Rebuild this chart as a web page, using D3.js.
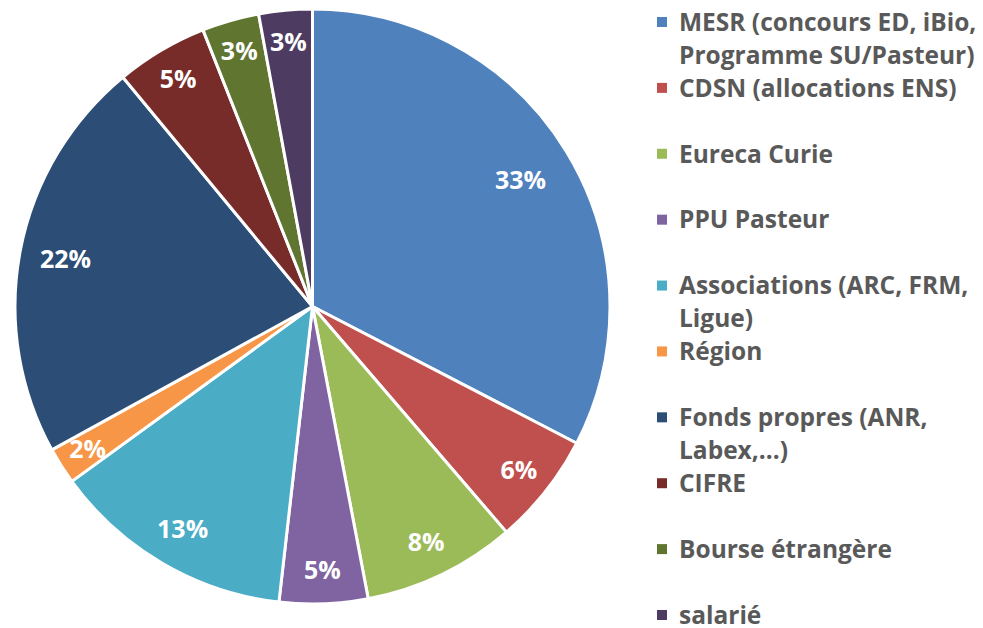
<!DOCTYPE html>
<html>
<head>
<meta charset="utf-8">
<script src="https://cdn.jsdelivr.net/npm/d3@7"></script>
<style>
  html, body { margin: 0; padding: 0; background: #fff; }
  svg { display: block; }
</style>
</head>
<body>
<svg></svg>
<script>
const width = 983;
const height = 628;

// funding sources, in pie order (clockwise from 12 o'clock)
const categories = [
	['MESR (concours ED, iBio,', 'Programme SU/Pasteur)'],
	['CDSN (allocations ENS)'],
	['Eureca Curie'],
	['PPU Pasteur'],
	['Associations (ARC, FRM,', 'Ligue)'],
	['Région'],
	['Fonds propres (ANR,', 'Labex,…)'],
	['CIFRE'],
	['Bourse étrangère'],
	['salarié']
];
const values = [32.6, 6.1, 8.3, 4.8, 13.2, 2.0, 22.0, 5.0, 3.1, 2.9];
const colors = ['#4f81bd', '#c0504d', '#9bbb59', '#8064a2', '#4bacc6',
	'#f79646', '#2c4d75', '#772c2a', '#5f7530', '#4d3b62'];

const cx = 312.5, cy = 306.5, radius = 297.5;
const font = '"Open Sans", Lato, sans-serif';

const svg = d3.select('svg')
	.attr('width', width)
	.attr('height', height);

const total = d3.sum(values);
const pie = d3.pie().sort(null).value(d => d);
const arc = d3.arc().innerRadius(0).outerRadius(radius);

// big slices get their label pulled a bit inwards, like Excel does
const labelPos = d => {
	const r = radius * (0.9 - 0.25 * d.value / total);
	return d3.arc().innerRadius(r).outerRadius(r).centroid(d);
};

const g = svg.append('g').attr('transform', `translate(${cx},${cy})`);

const arcs = pie(values);

g.selectAll('path')
	.data(arcs)
	.enter()
	.append('path')
	.attr('d', arc)
	.attr('fill', (d, i) => colors[i])
	.attr('stroke', '#fff')
	.attr('stroke-width', 3)
	.attr('stroke-linejoin', 'round');

g.selectAll('text')
	.data(arcs)
	.enter()
	.append('text')
	.attr('transform', d => `translate(${labelPos(d)})`)
	.attr('text-anchor', 'middle')
	.attr('dy', '0.36em')
	.style('font-family', font)
	.style('font-weight', 'bold')
	.style('font-size', '25px')
	.attr('fill', '#fff')
	.text(d => Math.round(d.value / total * 100) + '%');

// legend
const legendY = d3.scaleLinear().domain([0, categories.length - 1]).range([22, 615]);

const legend = svg.append('g')
	.selectAll('g')
	.data(categories)
	.enter()
	.append('g')
	.attr('transform', (d, i) => `translate(657,${legendY(i)})`);

legend.append('rect')
	.attr('x', 0)
	.attr('y', -5)
	.attr('width', 10)
	.attr('height', 10)
	.attr('fill', (d, i) => colors[i]);

legend.append('text')
	.attr('x', 22)
	.attr('y', 0)
	.style('font-family', font)
	.style('font-weight', 'bold')
	.style('font-size', '24.5px')
	.attr('fill', '#595959')
	.selectAll('tspan')
	.data(d => d)
	.enter()
	.append('tspan')
	.attr('x', 22)
	.attr('dy', (d, i) => i === 0 ? '0.36em' : '33px')
	.text(d => d);
</script>
</body>
</html>
